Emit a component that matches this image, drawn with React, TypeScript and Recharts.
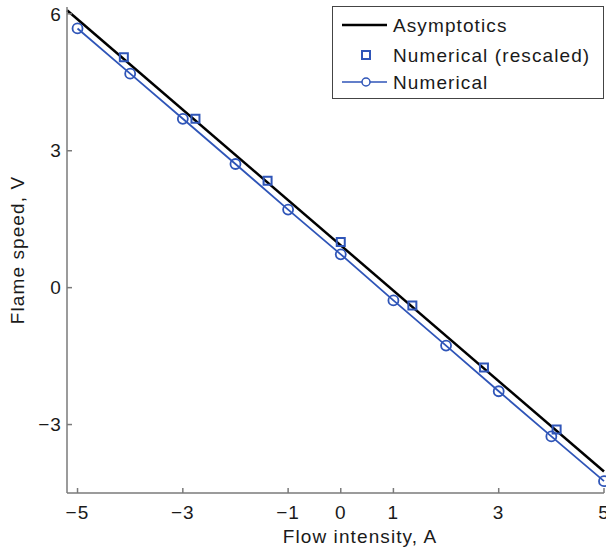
import { ComposedChart, Line, Scatter, XAxis, YAxis, Legend } from 'recharts';

// asymptotic line, read at the plot edges
const asymA = [-5.2, 5];
const asymV = [6.08, -4.03];

// numerical (rescaled) squares
const rescA = [-4.12, -2.76, -1.39, 0, 1.36, 2.72, 4.1];
const rescV = [5.05, 3.7, 2.34, 1.0, -0.39, -1.75, -3.11];

// numerical circles + line
const numA = [-5, -4, -3, -2, -1, 0, 1, 2, 3, 4, 5];
const numV = [5.68, 4.69, 3.7, 2.71, 1.71, 0.73, -0.28, -1.27, -2.27, -3.26, -4.24];

const xTicks = [-5, -3, -1, 0, 1, 3, 5];
const yTicks = [-3, 0, 3, 6];

const asymData = asymA.map((a, i) => ({ a, v: asymV[i] }));
const rescData = rescA.map((a, i) => ({ a, v: rescV[i] }));
const numData = numA.map((a, i) => ({ a, v: numV[i] }));

const BLUE = '#2f55b8';
const AXIS = '#7a7a7a';
const TEXT = '#1a1a1a';
const FONT = 19;

const fmt = (v: number) => (v < 0 ? '\u2212' + Math.abs(v) : String(v));

function LegendBox() {
    return (
        <svg width={272} height={93} style={{ display: 'block' }}>
            <rect x={0.5} y={0.5} width={271} height={92} fill="#fff" stroke="#444" strokeWidth={1} />
            <line x1={10} x2={55} y1={19} y2={19} stroke="#000" strokeWidth={2.5} />
            <text x={61} y={19} dy="0.35em" fontSize={FONT} fill={TEXT}>Asymptotics</text>
            <rect x={30} y={45} width={8} height={8} fill="none" stroke={BLUE} strokeWidth={2} />
            <text x={61} y={49} dy="0.35em" fontSize={FONT} fill={TEXT}>Numerical (rescaled)</text>
            <line x1={10} x2={55} y1={76} y2={76} stroke={BLUE} strokeWidth={1.5} />
            <circle cx={34} cy={76} r={4} fill="#fff" stroke={BLUE} strokeWidth={1.5} />
            <text x={61} y={76} dy="0.35em" fontSize={FONT} fill={TEXT}>Numerical</text>
        </svg>
    );
}

export default function App() {
    return (
        <div
            style={{
                position: 'absolute',
                left: 0,
                top: 0,
                fontFamily: '"Liberation Sans", Arial, Helvetica, sans-serif',
                letterSpacing: '1.1px',
                background: '#fff',
            }}
        >
            <ComposedChart width={606} height={551} margin={{ top: 7, right: 2, bottom: 0, left: 0 }}>
                <XAxis
                    xAxisId="b"
                    dataKey="a"
                    type="number"
                    domain={[-5.2, 5]}
                    ticks={xTicks}
                    interval={0}
                    tickFormatter={fmt}
                    height={58}
                    stroke={AXIS}
                    strokeWidth={1.5}
                    tickSize={-5}
                    tickMargin={18}
                    tick={{ fill: TEXT, fontSize: FONT }}
                    label={{
                        content: () => (
                            <text x={360} y={543} textAnchor="middle" fontSize={FONT} fill={TEXT}>
                                Flow intensity, A
                            </text>
                        ),
                    }}
                />
                <XAxis
                    xAxisId="t"
                    orientation="top"
                    dataKey="a"
                    type="number"
                    domain={[-5.2, 5]}
                    ticks={xTicks}
                    interval={0}
                    height={0}
                    stroke={AXIS}
                    strokeWidth={1.5}
                    tickSize={-5}
                    tick={false}
                />
                <YAxis
                    yAxisId="l"
                    dataKey="v"
                    type="number"
                    domain={[-4.5, 6.15]}
                    ticks={yTicks}
                    interval={0}
                    tickFormatter={fmt}
                    width={67}
                    stroke={AXIS}
                    strokeWidth={1.5}
                    tickSize={-5}
                    tickMargin={10}
                    tick={{ fill: TEXT, fontSize: FONT }}
                    label={{
                        content: (p: any) => {
                            const vb = p.viewBox;
                            const cx = 17;
                            const cy = vb.y + vb.height / 2;
                            return (
                                <text
                                    x={cx}
                                    y={cy}
                                    dy="0.35em"
                                    textAnchor="middle"
                                    fontSize={FONT}
                                    fill={TEXT}
                                    transform={`rotate(-90 ${cx} ${cy})`}
                                >
                                    Flame speed, V
                                </text>
                            );
                        },
                    }}
                />
                <YAxis
                    yAxisId="r"
                    orientation="right"
                    dataKey="v"
                    type="number"
                    domain={[-4.5, 6.15]}
                    ticks={yTicks}
                    interval={0}
                    width={0}
                    stroke={AXIS}
                    strokeWidth={1.5}
                    tickSize={-5}
                    tick={false}
                />
                <Line
                    xAxisId="b"
                    yAxisId="l"
                    data={asymData}
                    dataKey="v"
                    type="linear"
                    stroke="#000"
                    strokeWidth={2.5}
                    dot={false}
                    isAnimationActive={false}
                />
                <Line
                    xAxisId="b"
                    yAxisId="l"
                    data={numData}
                    dataKey="v"
                    type="linear"
                    stroke={BLUE}
                    strokeWidth={1.8}
                    dot={{ r: 5, fill: 'none', stroke: BLUE, strokeWidth: 1.8 }}
                    isAnimationActive={false}
                />
                <Scatter
                    xAxisId="b"
                    yAxisId="l"
                    data={rescData}
                    dataKey="v"
                    shape="square"
                    fill="none"
                    stroke={BLUE}
                    strokeWidth={2}
                    isAnimationActive={false}
                />
                <Legend
                    layout="vertical"
                    align="center"
                    verticalAlign="middle"
                    wrapperStyle={{ left: 332, top: 6, width: 272 }}
                    content={() => <LegendBox />}
                />
            </ComposedChart>
        </div>
    );
}
